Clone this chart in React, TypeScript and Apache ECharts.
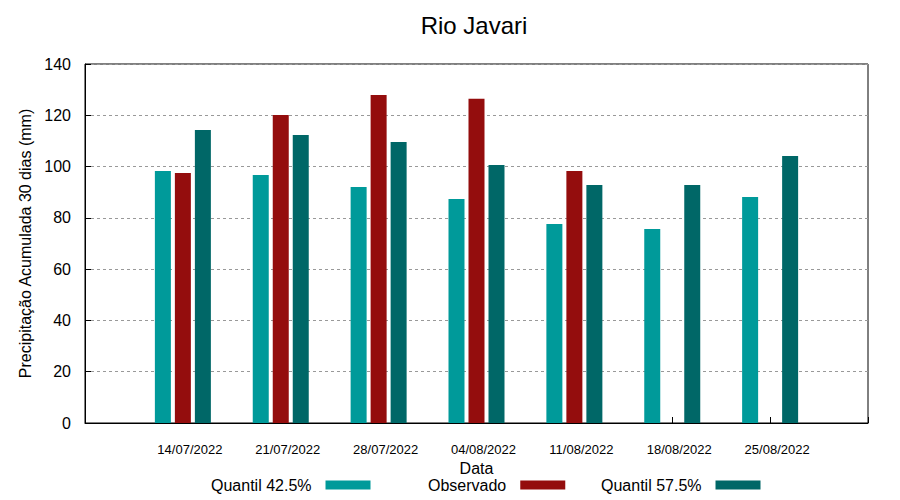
import React, { useEffect, useRef } from "react";
import * as echarts from "echarts";

const dates = ["14/07/2022", "21/07/2022", "28/07/2022", "04/08/2022", "11/08/2022", "18/08/2022", "25/08/2022"];
const quantil425 = [98.3, 96.7, 92.0, 87.4, 77.6, 75.7, 88.1];
const observado: (number | null)[] = [97.5, 120.1, 127.9, 126.4, 98.3, null, null];
const quantil575 = [114.3, 112.3, 109.6, 100.6, 92.8, 92.8, 104.1];
const yTicks = { min: 0, max: 140, interval: 20 };

const FONT = "Liberation Sans";
const toPairs = (arr: (number | null)[]) => arr.map((v, i) => [i + 1, v]);

export default function App() {
  const ref = useRef<HTMLDivElement>(null);
  useEffect(() => {
    document.body.style.margin = "0";
    if (!ref.current) return;
    const chart = echarts.init(ref.current, undefined, { renderer: "svg" });
    const legendCommon = {
      top: 477,
      padding: 0,
      align: "right" as const,
      itemWidth: 45,
      itemHeight: 9,
      icon: "rect",
      textStyle: { fontFamily: FONT, fontSize: 16, color: "#000", lineHeight: 13, padding: [0, 9, 0, 0] },
    };
    chart.setOption({
      animation: false,
      backgroundColor: "#fff",
      title: {
        text: "Rio Javari",
        left: 469,
        textAlign: "center",
        top: 8,
        textStyle: { fontFamily: FONT, fontSize: 24, fontWeight: "normal", color: "#000" },
      },
      legend: [
        { ...legendCommon, left: 211, data: ["Quantil 42.5%"] },
        { ...legendCommon, left: 428, data: ["Observado"] },
        { ...legendCommon, left: 601, data: ["Quantil 57.5%"] },
      ],
      grid: {
        left: 85,
        right: 32,
        top: 64,
        bottom: 77,
        show: true,
        borderColor: "#000",
        borderWidth: 1,
        backgroundColor: "transparent",
      },
      xAxis: {
        type: "value",
        min: 0,
        max: 8,
        interval: 1,
        name: "Data",
        nameLocation: "middle",
        nameGap: 37,
        nameTextStyle: { fontFamily: FONT, fontSize: 16, color: "#000", lineHeight: 13 },
        axisLine: { lineStyle: { color: "#000" } },
        axisTick: { inside: true, length: 6, lineStyle: { color: "#000" } },
        splitLine: { show: false },
        axisLabel: {
          fontFamily: FONT,
          fontSize: 13,
          color: "#000",
          margin: 20,
          padding: [0, 0, 0, 14],
          formatter: (v: number) => (v >= 1 && v <= dates.length ? dates[v - 1] : ""),
        },
      },
      yAxis: {
        type: "value",
        ...yTicks,
        name: "Precipitação Acumulada 30 dias (mm)",
        nameLocation: "middle",
        nameGap: 51,
        nameTextStyle: { fontFamily: FONT, fontSize: 16, color: "#000" },
        axisLine: { show: true, lineStyle: { color: "#000" } },
        axisTick: { show: true, inside: true, length: 6, lineStyle: { color: "#000" } },
        splitLine: { show: true, lineStyle: { color: "#999", type: [3, 3], width: 1 } },
        axisLabel: { fontFamily: FONT, fontSize: 16, color: "#000", margin: 14 },
      },
      series: [
        {
          name: "Quantil 42.5%",
          type: "bar",
          data: toPairs(quantil425),
          barWidth: 16,
          barGap: "25%",
          itemStyle: { color: "#009a9a" },
        },
        {
          name: "Observado",
          type: "bar",
          data: toPairs(observado),
          barWidth: 16,
          barGap: "25%",
          itemStyle: { color: "#940d0d" },
        },
        {
          name: "Quantil 57.5%",
          type: "bar",
          data: toPairs(quantil575),
          barWidth: 16,
          barGap: "25%",
          itemStyle: { color: "#006767" },
        },
      ],
    });
    return () => chart.dispose();
  }, []);
  return <div ref={ref} style={{ width: 900, height: 500 }} />;
}
